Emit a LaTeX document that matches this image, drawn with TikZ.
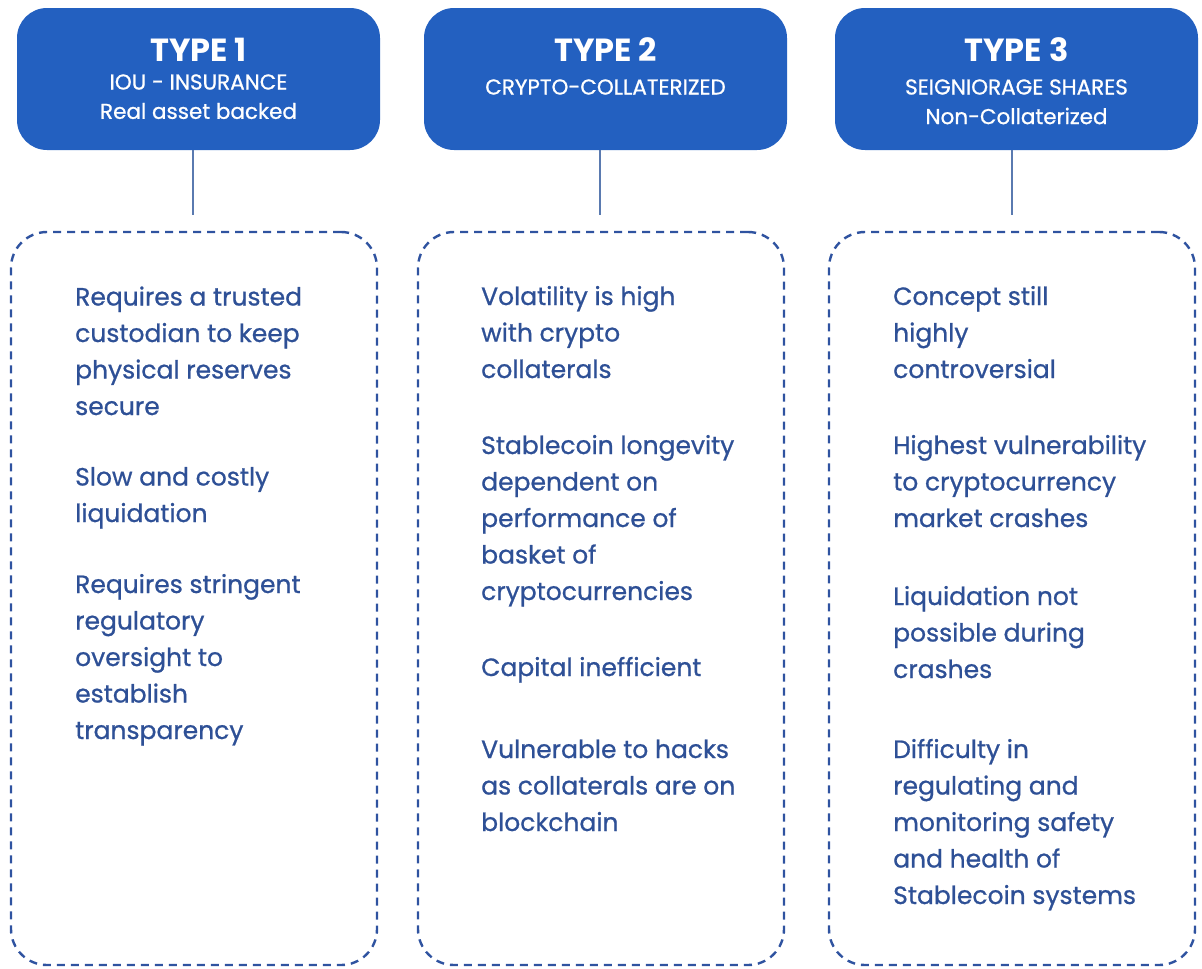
\documentclass[tikz,border=0pt]{standalone}
\usepackage{fontspec}
\setmainfont{Poppins}
\newfontfamily\medfont{Poppins}[FakeBold=0.8]
\usetikzlibrary{positioning}

\begin{document}
\begin{tikzpicture}[x=1pt,y=-1pt]
	\definecolor{headColour}{RGB}{35, 96, 192}
	\definecolor{textColour}{RGB}{46, 80, 150}
	\definecolor{dashColour}{RGB}{47, 83, 160}
	\definecolor{linkColour}{RGB}{90, 122, 176}
	\tikzstyle{head}=[rectangle, rounded corners=30pt, fill=headColour, minimum width=363pt, minimum height=142pt]
	\tikzstyle{panel}=[rectangle, rounded corners=36pt, draw=dashColour, line width=2.4pt, dash pattern=on 8pt off 6pt, minimum width=366pt, minimum height=733pt]
	\tikzstyle{title}=[text=white, font=\bfseries\fontsize{32}{36}\selectfont, inner sep=0pt]
	\tikzstyle{subtitle}=[text=white, font=\medfont\fontsize{21.5}{25}\selectfont, inner sep=0pt]
	\tikzstyle{item}=[text=textColour, font=\medfont\fontsize{25}{36.5}\selectfont, align=left, anchor=base west, inner sep=0pt]
	\tikzstyle{link}=[draw=linkColour, line width=2pt]

	\useasboundingbox (0,0) rectangle (1202,969);

	% headers
	\node [head] (t1) at (198.5,79) {};
	\node [head] (t2) at (605.5,79) {};
	\node [head] (t3) at (1016.5,79) {};

	\node [title] (n1) at (198.5,50) {TYPE 1};
	\node [subtitle] (s1a) at (198.5,82) {IOU - INSURANCE};
	\node [subtitle] (s1b) at (198.5,111) {Real asset backed};
	\node [title] (n2) at (605.5,50) {TYPE 2};
	\node [subtitle] (s2a) at (605.5,87) {CRYPTO-COLLATERIZED};
	\node [title] (n3) at (1016.5,50) {TYPE 3};
	\node [subtitle] (s3a) at (1016.5,87) {SEIGNIORAGE SHARES};
	\node [subtitle] (s3b) at (1016.5,116) {Non-Collaterized};

	% dashed panels
	\node [panel] (p1) at (194,598.5) {};
	\node [panel] (p2) at (601,598.5) {};
	\node [panel] (p3) at (1012,598.5) {};

	\coordinate (e1) at (193,215);
	\coordinate (e2) at (600,215);
	\coordinate (e3) at (1012,215);
	\draw [link] (t1.south -| e1) -- (e1);
	\draw [link] (t2.south -| e2) -- (e2);
	\draw [link] (t3.south -| e3) -- (e3);

	% type 1 (anchored at the baseline of the last line)
	\node [item] (a1) at (75,415) {Requires a trusted\\custodian to keep\\physical reserves\\secure};
	\node [item] (a2) at (75,522) {Slow and costly\\liquidation};
	\node [item] (a3) at (75,739) {Requires stringent\\regulatory\\oversight to\\establish\\transparency};

	% type 2
	\node [item] (b1) at (481,378) {Volatility is high\\with crypto\\collaterals};
	\node [item] (b2) at (481,600) {Stablecoin longevity\\dependent on\\performance of\\basket of\\cryptocurrencies};
	\node [item] (b3) at (481,676) {Capital inefficient};
	\node [item] (b4) at (481,831) {Vulnerable to hacks\\as collaterals are on\\blockchain};

	% type 3
	\node [item] (c1) at (893,378) {Concept still\\highly\\controversial};
	\node [item] (c2) at (893,527) {Highest vulnerability\\to cryptocurrency\\market crashes};
	\node [item] (c3) at (893,678) {Liquidation not\\possible during\\crashes};
	\node [item] (c4) at (893,904) {Difficulty in\\regulating and\\monitoring safety\\and health of\\Stablecoin systems};
\end{tikzpicture}
\end{document}
